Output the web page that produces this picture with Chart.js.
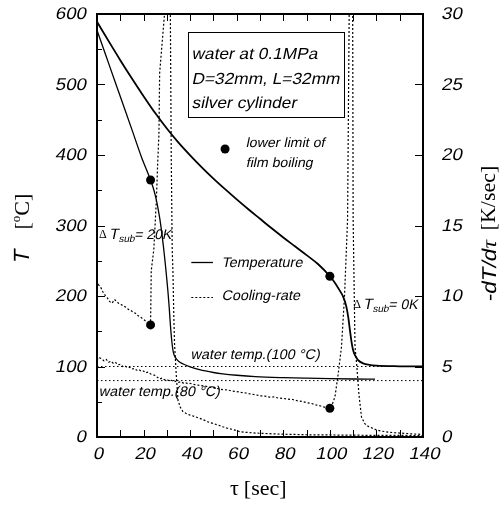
<!DOCTYPE html>
<html><head><meta charset="utf-8">
<script src="https://cdn.jsdelivr.net/npm/chart.js@4.4.1/dist/chart.umd.min.js"></script>
<style>html,body{margin:0;padding:0;background:#fff;overflow:hidden}canvas{display:block}</style>
</head><body>
<canvas id="c" width="500" height="509"></canvas>
<script>
// ---- data ----
// Temperature, subcooling 0 K (water 100 °C)
const tauT0 = [0,5,10,15,20,25,30,35,40,45,50,55,60,65,70,75,80,85,90,95,100,102,104,105.7,107,107.9,108.6,109.3,110,110.8,112,114.3,117,120,130,140];
const T0    = [589,561.5,534.5,508.5,483.5,459.5,437.5,417.5,399.5,382.5,366.5,351.5,337,323,309.5,296,283,270.5,258,245,228,219.5,209,199,186,170,152,135,123,116,109.5,104.5,102.3,101.2,100.3,100];
// Temperature, subcooling 20 K (water 80 °C)
const tauT20 = [0,5,10,15,19,23,24,25,26,27,28,28.5,29,29.5,30,30.5,31,31.5,32,32.4,32.8,33.3,34,35,37,40,44,50,54,60,68,80,90,100,110,119.4];
const T20    = [577,530,483,436,398,364.5,355,343,328,309,285,271,256,240,223,205,184,160,140,128,120,115,111,107.5,103.5,99.5,95.5,91.5,89.6,87.6,85.7,84.2,83.4,82.8,82.3,82];
// Cooling rate, subcooling 20 K
const tauR20 = [0,0.6,1.5,2.5,3.5,4.5,5.5,6.5,7.5,8.5,9.5,10.5,11.5,12.5,13.5,14.5,15.5,16.5,17.5,18.5,19.5,20.5,21.5,22.5,23,23.3,24.4,25.5,26.1,26.6,26.9,27.5,29,30.2,31.5,31.9,32.3,32.6,33,33.3,34,34.8,35.8,36.9,38.5,40,42,44,46,48,50,52,54,56,58,61.3,64,68,72,76,80,85,90,95,100,105,110,115,120,125,130,135,140];
const R20    = [10.5,10.8,10.65,10.3,10.05,9.85,9.6,9.5,9.75,9.6,9.45,9.38,9.28,9.2,9.05,8.98,8.85,8.78,8.62,8.52,8.4,8.28,8.12,8.02,7.95,11.8,13.3,16.8,19.6,21.5,25.8,27,30,45,30,19.6,13.3,11.8,8.5,6.6,4.5,2.6,2.1,1.8,1.65,1.55,1.45,1.33,1.2,1.05,0.95,0.85,0.73,0.62,0.55,0.38,0.33,0.28,0.25,0.22,0.2,0.18,0.16,0.15,0.15,0.13,0.14,0.12,0.12,0.11,0.12,0.1,0.1];
// Cooling rate, subcooling 0 K
const tauR0 = [0,0.7,2,3,4,5,6,7,8,9,10,11,12,13,14,15,16,17,18,19,20,21,22,23,24,25,26,27,28,29,30,31,32,33,34,35,36,37,38,39,40,42,44,46,48,50,52,54,56,58,60,62,64,66,68,70,72,74,76,78,80,82,84,86,88,90,92,94,96,98,100,101,102.2,103.6,105,106.3,107.6,108.3,109,109.8,110,110.8,111.5,112.5,113.6,115,116.5,118.6,120,122,125,128,130,133,135,138,140];
const R0    = [5.45,5.65,5.55,5.4,5.5,5.3,5.38,5.22,5.28,5.12,5.15,5.0,5.05,4.92,4.95,4.82,4.86,4.74,4.78,4.66,4.68,4.56,4.6,4.47,4.42,4.36,4.22,4.12,4.18,4.06,4.08,3.98,4.02,3.92,3.96,3.88,3.92,3.83,3.86,3.78,3.8,3.72,3.66,3.62,3.55,3.5,3.42,3.36,3.34,3.26,3.22,3.16,3.12,3.05,3.0,2.92,2.9,2.83,2.84,2.76,2.74,2.68,2.66,2.57,2.52,2.44,2.38,2.28,2.2,2.1,2.04,2.3,2.86,4.5,6.4,10,15.4,30,45,30,15.4,6.4,5.2,3,1.4,0.95,0.75,0.6,0.5,0.42,0.35,0.3,0.28,0.25,0.22,0.2,0.18];
// lower limit of film boiling
const dotTauT = [23,100];   const dotT = [364.5,228];
const dotTauR = [23,100];   const dotR = [7.95,2.04];
// water temperatures
const waterTemps = [100,80];
const tauRange = [0,140];
// axis tick steps
const xTickStep = 20, yTickStep = 100, y2TickStep = 5;

const SANS = '"Liberation Sans", Arial, sans-serif';
const SERIF = '"Liberation Serif", "Times New Roman", serif';
const SKEW = -0.21;
const pts = (xs, ys) => xs.map((x, i) => ({x, y: ys[i]}));

function txt(ctx, s, x, y, font, sx, align, ital) {
  ctx.save(); ctx.font = font; ctx.translate(x, y);
  ctx.transform(sx || 1, 0, ital ? SKEW : 0, 1, 0, 0);
  ctx.textAlign = align || 'left'; ctx.textBaseline = 'middle'; ctx.fillText(s, 0, 0); ctx.restore();
}
// draw a run of text pieces. parts: {t,font,sx,dy,gap,ital}
function runs(ctx, parts, x, y, rot) {
  ctx.save(); ctx.translate(x, y); if (rot) ctx.rotate(rot);
  ctx.textBaseline = 'middle'; ctx.textAlign = 'left';
  let cx = 0;
  for (const p of parts) {
    if (p.gap) { cx += p.gap; continue; }
    ctx.font = p.font; const sx = p.sx || 1;
    ctx.save(); ctx.translate(cx, p.dy || 0);
    ctx.transform(sx, 0, p.ital ? SKEW : 0, 1, 0, 0);
    ctx.fillText(p.t, 0, 0); ctx.restore();
    cx += ctx.measureText(p.t).width * sx;
  }
  ctx.restore();
}

const frameTicks = {
  id: 'frameTicks',
  afterDatasetsDraw(chart) {
    const {ctx, chartArea: a, scales: {x, y, y2}} = chart;
    ctx.save();
    ctx.strokeStyle = '#000'; ctx.lineWidth = 1; ctx.beginPath();
    for (let v = x.min; v <= x.max + 1e-9; v += xTickStep / 2) {
      const px = Math.round(x.getPixelForValue(v)) + 0.5;
      ctx.moveTo(px, a.bottom); ctx.lineTo(px, a.bottom - 7);
      ctx.moveTo(px, a.top); ctx.lineTo(px, a.top + 7);
    }
    for (let v = y.min; v <= y.max + 1e-9; v += yTickStep / 2) {
      const py = Math.round(y.getPixelForValue(v)) + 0.5;
      const L = (v % yTickStep === 0) ? 8 : 5;
      ctx.moveTo(a.left, py); ctx.lineTo(a.left + L, py);
    }
    for (let v = y2.min; v <= y2.max + 1e-9; v += y2TickStep) {
      const py = Math.round(y2.getPixelForValue(v)) + 0.5;
      ctx.moveTo(a.right, py); ctx.lineTo(a.right - 8, py);
    }
    ctx.stroke();
    ctx.lineWidth = 2;
    ctx.strokeRect(a.left, a.top, a.right - a.left, a.bottom - a.top);
    // tick labels
    ctx.fillStyle = '#000';
    const tf = '17px ' + SANS;
    x.ticks.forEach(t => txt(ctx, String(t.value), x.getPixelForValue(t.value) + 2, a.bottom + 17, tf, 1.1, 'center', true));
    y.ticks.forEach(t => txt(ctx, String(t.value), a.left - 10, y.getPixelForValue(t.value) + 0.5, tf, 1.1, 'right', true));
    y2.ticks.forEach(t => txt(ctx, String(t.value), a.right + 19, y2.getPixelForValue(t.value) + 0.5, tf, 1.1, 'left', true));
    ctx.restore();
  },
  afterDraw(chart) {
    const {ctx, scales: {x, y}} = chart;
    const X = v => x.getPixelForValue(v), Y = v => y.getPixelForValue(v);
    ctx.save();
    ctx.fillStyle = '#000'; ctx.strokeStyle = '#000';
    // info box
    ctx.lineWidth = 1;
    const bx = Math.round(X(39)) + 0.5, by = Math.round(Y(574.5)) + 0.5;
    ctx.strokeRect(bx, by, Math.round(X(106) - X(39)), Math.round(Y(454) - Y(574.5)));
    const bf = '16px ' + SANS;
    txt(ctx, 'water at 0.1MPa', X(41), Y(541.8), bf, 1.08, 'left', true);
    txt(ctx, 'D=32mm, L=32mm', X(41), Y(506.4), bf, 1.08, 'left', true);
    txt(ctx, 'silver cylinder', X(41), Y(472.3), bf, 1.08, 'left', true);
    // film boiling marker note
    ctx.beginPath(); ctx.arc(X(55), Y(408.5), 4.5, 0, Math.PI * 2); ctx.fill();
    const sf = '13.5px ' + SANS;
    txt(ctx, 'lower limit of', X(64.2), Y(416.6), sf, 1.05, 'left', true);
    txt(ctx, 'film boiling', X(64.2), Y(388), sf, 1.05, 'left', true);
    // legend
    ctx.lineWidth = 1.3; ctx.beginPath();
    ctx.moveTo(X(40.5), Math.round(Y(248.2)) + 0.5); ctx.lineTo(X(49.8), Math.round(Y(248.2)) + 0.5); ctx.stroke();
    ctx.setLineDash([2, 2]); ctx.lineWidth = 1.2; ctx.beginPath();
    ctx.moveTo(X(40.5), Math.round(Y(199)) + 0.5); ctx.lineTo(X(49.8), Math.round(Y(199)) + 0.5); ctx.stroke();
    ctx.setLineDash([]);
    const lf = '14px ' + SANS;
    txt(ctx, 'Temperature', X(53.8), Y(247), lf, 1.03, 'left', true);
    txt(ctx, 'Cooling-rate', X(53.8), Y(199.3), lf, 1.03, 'left', true);
    // water temperature notes
    txt(ctx, 'water temp.(100 °C)', X(40.5), Y(116), lf, 1.03, 'left', true);
    txt(ctx, 'water temp.(80 °C)', X(1.1), Y(63.8), lf, 1.03, 'left', true);
    // subcooling labels
    const dparts = (val) => [
      {t: 'Δ', font: '12px ' + SERIF},
      {gap: 3},
      {t: 'T', font: '15px ' + SANS, ital: true},
      {t: 'sub', font: '10px ' + SANS, dy: 4, ital: true},
      {t: '= ' + val, font: '14px ' + SANS, ital: true}
    ];
    runs(ctx, dparts('20K'), X(0.9), Y(286.5), 0);
    runs(ctx, dparts('0K'), X(110), Y(187), 0);
    // axis titles
    runs(ctx, [
      {t: 'T', font: '22px ' + SANS, ital: true},
      {gap: 20},
      {t: '[', font: '22px ' + SERIF},
      {t: 'o', font: '13px ' + SERIF, dy: -6},
      {t: 'C]', font: '22px ' + SERIF}
    ], 23, 263, -Math.PI / 2);
    runs(ctx, [
      {t: '-dT/d', font: '20px ' + SANS, sx: 1.12, ital: true},
      {t: 'τ', font: '21px ' + SERIF, sx: 1.1, ital: true},
      {gap: 9},
      {t: '[K/sec]', font: '20px ' + SERIF, sx: 1.1}
    ], 490, 301, -Math.PI / 2);
    runs(ctx, [
      {t: 'τ', font: '22px ' + SERIF},
      {gap: 5},
      {t: '[sec]', font: '22px ' + SERIF}
    ], 230, 489, 0);
    ctx.restore();
  }
};

const solid = (data, w) => ({data, yAxisID: 'y', showLine: true, borderColor: '#000', borderWidth: w, pointRadius: 0, cubicInterpolationMode: 'monotone', fill: false});
const dotted = (data, axis, w, dash) => ({data, yAxisID: axis, showLine: true, borderColor: '#000', borderWidth: w, borderDash: dash, pointRadius: 0, tension: 0, fill: false});

const datasets = [
  ...waterTemps.map(w => dotted(pts(tauRange, [w, w]), 'y', 1, [1.5, 2.5])),
  dotted(pts(tauR20, R20), 'y2', 1.2, [2, 2]),
  dotted(pts(tauR0, R0), 'y2', 1.2, [2, 2]),
  solid(pts(tauT20, T20), 1.3),
  solid(pts(tauT0, T0), 1.8),
  {data: pts(dotTauT, dotT), yAxisID: 'y', showLine: false, pointRadius: 4.5, pointBackgroundColor: '#000', pointBorderWidth: 0},
  {data: pts(dotTauR, dotR), yAxisID: 'y2', showLine: false, pointRadius: 4.5, pointBackgroundColor: '#000', pointBorderWidth: 0}
];

const hidden = {display: false};
new Chart(document.getElementById('c'), {
  type: 'scatter',
  data: {datasets},
  options: {
    responsive: false, animation: false, devicePixelRatio: 1,
    layout: {padding: {top: 14, left: 0, right: 0, bottom: 0}},
    plugins: {legend: hidden, tooltip: {enabled: false}},
    scales: {
      x: {type: 'linear', position: 'bottom', min: tauRange[0], max: tauRange[1],
          grid: {display: false, drawTicks: false}, border: hidden,
          ticks: {display: false, stepSize: xTickStep}, afterFit(s) { s.height = 72; }},
      y: {type: 'linear', position: 'left', min: 0, max: 600,
          grid: {display: false, drawTicks: false}, border: hidden,
          ticks: {display: false, stepSize: yTickStep}, afterFit(s) { s.width = 97; }},
      y2: {type: 'linear', position: 'right', min: 0, max: 30,
          grid: {display: false, drawTicks: false}, border: hidden,
          ticks: {display: false, stepSize: y2TickStep}, afterFit(s) { s.width = 77; }}
    }
  },
  plugins: [frameTicks]
});
</script>
</body></html>
